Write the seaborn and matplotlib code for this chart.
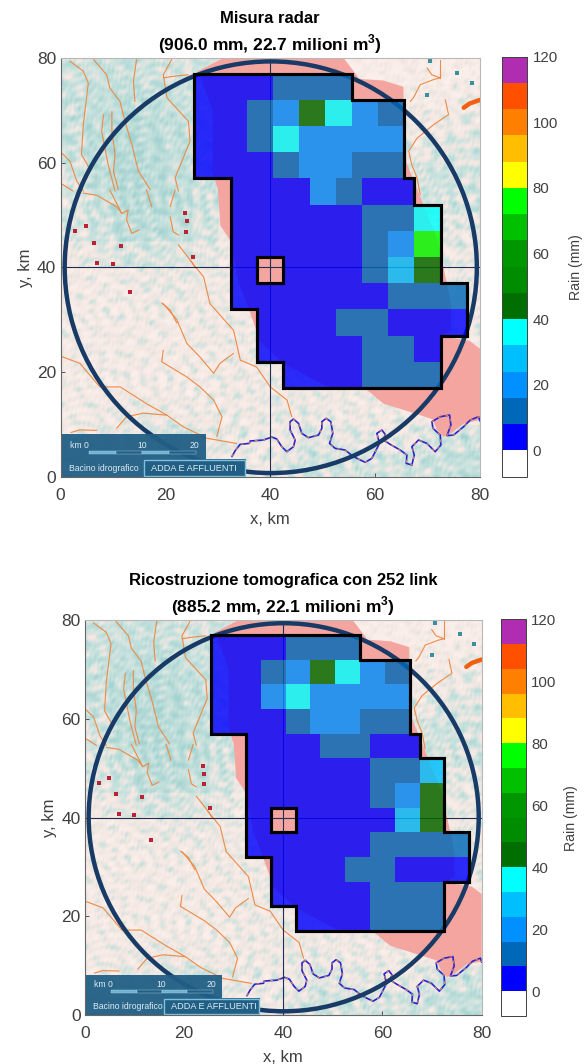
import numpy as np
import matplotlib
matplotlib.use('Agg')
import matplotlib.pyplot as plt
import seaborn as sns
from matplotlib.cm import ScalarMappable
from matplotlib.collections import LineCollection
from matplotlib.colors import LinearSegmentedColormap, ListedColormap, Normalize
from matplotlib.patches import Circle, Polygon, Rectangle
from matplotlib.transforms import Affine2D

sns.set_style("white")
plt.rcParams['font.family'] = ['Liberation Sans', 'DejaVu Sans']
plt.rcParams['mathtext.fontset'] = 'custom'
plt.rcParams['mathtext.bf'] = 'Liberation Sans:bold'
plt.rcParams['mathtext.rm'] = 'Liberation Sans'

W, H = 587, 1064
TXT = '#404040'

# rain classes (mm), colorbar goes -8..120 in 8 mm steps
rain_colors = ['#ffffff', '#0000ff', '#0068b8', '#0090ff', '#00bfff', '#00ffff',
               '#006e00', '#008c00', '#009600', '#00c000', '#00ff00', '#ffff00',
               '#ffbf00', '#ff8000', '#ff5000', '#b02cb0']
cbar_ticks = [0, 20, 40, 60, 80, 100, 120]
axis_ticks = [0, 20, 40, 60, 80]

# the catchment cells, one row every 5 km from the north
row_tops = [77, 72, 67, 62, 57, 52, 47, 42, 37, 32, 27, 22]
row_lefts = [25.5, 25.5, 25.5, 25.5, 32.5, 32.5, 32.5, 32.5, 32.5, 37.5, 37.5, 42.5]
nan = float('nan')

radar_rain = [
    [4, 4, 4, 12, 12, 12],
    [4, 4, 12, 20, 44, 36, 20, 12],
    [4, 4, 12, 36, 20, 20, 20, 20],
    [4, 4, 4, 12, 20, 20, 12, 12],
    [4, 4, 4, 20, 12, 4, 4],
    [4, 4, 4, 4, 4, 12, 12, 36],
    [4, 4, 4, 4, 4, 12, 20, 76],
    [4, nan, 4, 4, 4, 12, 28, 44],
    [4, 4, 4, 4, 4, 4, 12, 12, 12],
    [4, 4, 4, 12, 12, 4, 4, 4],
    [4, 4, 4, 4, 12, 12, 4],
    [4, 4, 4, 12, 12, 12],
]
tomo_rain = [
    [4, 4, 4, 12, 12, 12],
    [4, 4, 12, 20, 44, 36, 20, 12],
    [4, 4, 20, 36, 20, 20, 20, 20],
    [4, 4, 4, 12, 20, 20, 12, 12],
    [4, 4, 4, 12, 12, 4, 4],
    [4, 4, 4, 4, 4, 12, 12, 28],
    [4, 4, 4, 4, 4, 12, 20, 44],
    [4, nan, 4, 4, 4, 4, 28, 44],
    [4, 4, 4, 4, 4, 12, 12, 12, 12],
    [4, 4, 4, 12, 12, 4, 4, 4],
    [4, 4, 4, 4, 12, 12, 12],
    [4, 4, 4, 12, 12, 12],
]

# background map, km. amount of green speckle per 5 km square, north first
map_tint = [
    [.55, .6, .6, .55, .5, .5, .3, .2, .2, .1, .1, .1, .1, .15, .1, .1],
    [.6, .65, .7, .65, .6, .45, .3, .3, .3, .3, .3, .2, .2, .2, .2, .25],
    [.6, .7, .8, .7, .65, .5, .3, .3, .3, .3, .3, .3, .3, .3, .3, .35],
    [.6, .7, .8, .75, .65, .5, .3, .3, .3, .3, .3, .3, .3, .35, .45, .45],
    [.5, .7, .8, .75, .65, .55, .4, .3, .3, .3, .3, .3, .4, .5, .55, .5],
    [.45, .6, .75, .75, .7, .55, .4, .3, .3, .3, .3, .3, .4, .55, .5, .5],
    [.45, .55, .7, .7, .65, .5, .4, .3, .3, .3, .3, .3, .4, .45, .4, .4],
    [.3, .4, .5, .5, .45, .4, .3, .3, .3, .3, .3, .3, .3, .3, .35, .35],
    [.25, .25, .3, .35, .35, .3, .3, .3, .3, .3, .3, .3, .3, .3, .3, .35],
    [.25, .25, .25, .3, .3, .3, .3, .3, .3, .3, .3, .3, .3, .3, .3, .3],
    [.25, .25, .25, .25, .25, .3, .3, .3, .3, .3, .3, .3, .3, .3, .3, .3],
    [.25, .25, .25, .25, .25, .25, .3, .3, .3, .3, .3, .3, .3, .3, .3, .3],
    [.25, .25, .25, .25, .25, .25, .3, .3, .3, .3, .3, .3, .3, .3, .3, .3],
    [.25, .3, .35, .35, .3, .3, .3, .3, .35, .35, .3, .3, .3, .3, .3, .3],
    [.3, .35, .35, .45, .55, .4, .35, .3, .3, .45, .4, .4, .3, .4, .55, .55],
    [.35, .3, .3, .45, .5, .4, .3, .3, .4, .55, .5, .5, .5, .55, .6, .65],
]

basin_x = [31, 26.3, 29, 29, 30, 30.5, 32.5, 34, 36.3, 38, 42.5, 51.4, 58, 61.6, 68, 71, 71.8, 73, 74,
           76.9, 80, 80, 78, 72.7, 74.5, 74.5, 72, 66, 65.4, 65.4, 61.6, 57, 54]
basin_y = [80, 77.5, 70, 58, 55, 48, 45, 37, 31, 26, 21.7, 17, 17, 14, 12, 11, 9, 7.7, 8,
           10.2, 10.9, 24.5, 26, 26.8, 28, 33, 45, 60, 72.5, 74.5, 75.7, 76, 80]

orange_rivers = [
    ([24.7, 27.3, 28.5, 33, 34.3, 37.4, 40, 43.2, 44.1], [41.4, 38.2, 33.1, 28, 22.3, 21, 17.2, 14.7, 11.5]),
    ([19.6, 22.2, 24.1, 26.6, 29.2, 30.4, 33], [33.1, 30, 25.5, 22.9, 19.8, 21.7, 23.6]),
    ([19.6, 19.3, 24.1, 26.6, 29.2, 30.8, 29.8], [24.2, 22, 19.1, 17.2, 14.7, 11.5, 7.7]),
    ([0.2, 3.7, 7.5, 11.4, 16.4, 20.3, 23.4, 27.9, 33.6], [23, 21.7, 17.2, 17.2, 14, 11.8, 9.6, 7.4, 6.4]),
    ([1.8, 4.35, 5.3, 4.35, 4, 5.3], [79.4, 77.5, 75.2, 67.3, 61.6, 59.3]),
    ([6.3, 8.8, 9.4, 11.35, 12.3, 13.6, 14.85, 17.1], [79.7, 76.8, 74.3, 71.7, 67.9, 63.5, 58.4, 54.9]),
    ([14.5, 13.9, 14.2], [79.7, 75.5, 71.7]),
    ([8.2, 7.85, 9.1, 10.4], [69.2, 66, 59.6, 54.6]),
    ([9.8, 9.8, 10.4, 10.1, 11], [69.8, 66, 61.6, 58.4, 54.9]),
    ([21.2, 19.6, 20.3, 24.4, 24.7, 21.85, 22.5], [79.7, 76.8, 72.4, 67.9, 64.1, 57.1, 54.6]),
    ([19.6, 21.5, 24.4], [76.2, 76.5, 76.8]),
    ([.2, 1.8, 3.1, 4.35], [61.9, 60.3, 56.5, 54.6]),
    ([0, 2.4], [56.1, 54.6]),
    ([4.35, 6.9, 10.7, 11.7], [54.2, 53.8, 51.6, 50.3]),
    ([9.4, 11.7, 12.9, 12.6, 13.6, 15], [54.8, 50.3, 51, 49.1, 46.5, 47.2]),
    ([16.4, 17.4], [54.8, 51.6]),
    ([21.85, 20.9], [54.8, 51.6]),
    ([20.9, 21.5, 22.5], [49.7, 46.8, 46.2]),
    ([22.5, 25, 25.7], [44.3, 41.1, 39.9]),
    ([19.3, 20.9, 22.2], [33.2, 31.9, 29.4]),
    ([69.9, 70.8, 72.4, 71.2, 68.6, 67.3, 66.7], [78.1, 76.8, 76.2, 75.9, 74.9, 72.4, 71.7]),
    ([72.4, 72.4], [79.7, 76.2]),
    ([73.4, 74, 71.2, 68, 66.4, 67, 68, 68.6], [72, 69.2, 67.3, 64.7, 62.2, 59.6, 57.1, 53.9]),
    ([2, 3.7, 6.9], [8.5, 9, 8.9]),
    ([10.7, 12.6, 15.8, 20.3], [9.3, 11.5, 12.2, 11.8]),
]
lake_arm_x = [76.9, 78, 80]
lake_arm_y = [70.5, 71.3, 72]
po_x = [32.7, 33.3, 34.25, 36.03, 36.16, 38.7, 40.29, 41.25, 42.2, 43.16, 44.43, 44.75, 43.79, 43.79, 44.43, 45.38,
        46.02, 47.29, 49.2, 49.84, 49.84, 50.66, 51.55, 51.93, 51.3, 52.38, 54.29, 55.88, 58.1, 59.38, 60.84,
        60.33, 61.29, 61.92, 61.6, 62.88, 64.78, 66.06, 65.93, 67.01, 67.46, 67.01, 68.28, 69.87, 71.46, 72.54,
        72.42, 71.03, 70.83, 72.42, 74.2, 74.45, 73.69, 74.96, 76.87, 78.14, 79.73, 80]
po_y = [3.9, 5, 6.23, 6.42, 6.87, 7.06, 7.63, 7.25, 5.79, 4.83, 5.79, 7.06, 8.97, 10.56, 11.07, 10.24,
        8.33, 7.51, 8.02, 9.29, 10.56, 11.2, 10.56, 8.33, 6.42, 5.47, 5.15, 3.88, 2.8, 3.56, 6.42,
        8.33, 8.97, 8.14, 7.06, 6.23, 5.15, 4.2, 2.61, 2.29, 4.2, 5.79, 7.06, 6.42, 4.83, 6.11,
        8.01, 9.29, 10.56, 11.51, 11.83, 9.92, 7.89, 8.01, 9.6, 10.88, 11.51, 10.69]
spot_x = [2.8, 4.9, 6.3, 11.5, 6.9, 9.95, 13.3, 23.75, 24.1, 24, 25.35]
spot_y = [47, 48, 44.75, 44.2, 40.8, 40.6, 35.4, 50.5, 48.8, 46.8, 42]
lake_x = [70.5, 75.6, 78.5, 69.9]
lake_y = [79.4, 77.1, 75.2, 72.9]

titles = ['Misura radar', 'Ricostruzione tomografica con 252 link']
subtitles = ['(906.0 mm, 22.7 milioni m$^{\\mathbf{3}}$)', '(885.2 mm, 22.1 milioni m$^{\\mathbf{3}}$)']
rains = [radar_rain, tomo_rain]
boxes = [(60.5, 58, 480, 477), (84.7, 620, 481.7, 1015)]
cbar_boxes = [(501.7, 56.7, 527, 476.7), (501, 619.3, 525.7, 1016)]
cbar_label_x = [2.66, 2.55]

fig = plt.figure(figsize=(W / 100, H / 100), dpi=100)


def rect(box):
    l, t, r, b = box
    return [l / W, 1 - b / H, (r - l) / W, (b - t) / H]


def rain_grid(rain):
    # half km grid, row 0 is the south edge
    grid = np.full((160, 160), np.nan)
    for top, left, values in zip(row_tops, row_lefts, rain):
        for n, v in enumerate(values):
            c = int(left * 2) + n * 10
            grid[(top - 5) * 2:top * 2, c:c + 10] = v
    return grid


def outline(grid):
    m = np.pad(~np.isnan(grid), 1, constant_values=False)
    segs = []
    for i, j in zip(*np.nonzero(m[:-1, 1:-1] != m[1:, 1:-1])):
        segs.append([(j, i), (j + 1, i)])
    for i, j in zip(*np.nonzero(m[1:-1, :-1] != m[1:-1, 1:])):
        segs.append([(j, i), (j, i + 1)])
    return segs


# mottling stands in for the scanned raster of the map, it carries no values
tint = np.kron(np.array(map_tint[::-1]), np.ones((40, 40)))
yy, xx = np.mgrid[0:640, 0:640] / 8.0
mottle = np.zeros_like(xx)
for i in range(60):
    angle = np.radians(i * 137.508)
    wave = 0.8 + 3.5 * ((i * 0.618034) % 1)
    mottle += np.sin(2 * np.pi * (np.cos(angle) * xx + np.sin(angle) * yy) / wave + i * i * 0.37)
mottle = mottle / mottle.std()
speckle = np.clip(tint + 0.13 * mottle, 0, 1)
map_cmap = LinearSegmentedColormap.from_list(
    'map', [(0, '#fbefeb'), (.3, '#f3e7e2'), (.6, '#c8e2de'), (1, '#a4d3d1')])

cmap = ListedColormap(rain_colors)
norm = Normalize(-8, 120)

for k, (rain, box, cbox) in enumerate(zip(rains, boxes, cbar_boxes)):
    ax = fig.add_axes(rect(box))
    grid = rain_grid(rain)
    sns.heatmap(grid, cmap=cmap, vmin=-8, vmax=120, alpha=0.82, cbar=False, ax=ax,
                xticklabels=False, yticklabels=False)
    km = Affine2D().scale(2) + ax.transData

    ax.imshow(speckle, cmap=map_cmap, vmin=0, vmax=1, origin='lower', extent=(0, 160, 0, 160),
              aspect='auto', interpolation='bilinear', zorder=0)
    ax.add_patch(Polygon(np.column_stack([basin_x, basin_y]), closed=True, fc='#f4a5a0',
                         ec='none', transform=km, zorder=0.2))
    for rx, ry in orange_rivers:
        ax.plot(rx, ry, color='#ee8a45', lw=0.8, transform=km, zorder=0.4)
    ax.plot(lake_arm_x, lake_arm_y, color='#f06010', lw=3.2, transform=km, zorder=0.4)
    ax.plot(po_x, po_y, color='#2424d0', lw=1.2, transform=km, zorder=0.4)
    ax.plot(po_x, po_y, color='#ee8a45', lw=0.7, ls=(0, (3, 5)), transform=km, zorder=0.45)
    ax.scatter(spot_x, spot_y, s=7, marker='s', color='#bb2233', lw=0, transform=km, zorder=0.4)
    ax.scatter(lake_x, lake_y, s=12, marker='s', color='#3a8f9f', lw=0, transform=km, zorder=0.4)
    ax.axhline(80, color='#1d2f55', lw=0.8, zorder=0.6)
    ax.axvline(80, color='#1d2f55', lw=0.8, zorder=0.6)
    ax.add_patch(Circle((40.1, 40.05), 39.3, fc='none', ec='#173a66', lw=3.2, transform=km, zorder=0.7))
    ax.add_collection(LineCollection(outline(grid), colors='black', linewidths=2.2,
                                     capstyle='projecting', zorder=3))

    # legend block of the map
    ax.add_patch(Rectangle((0, 0), 27.7, 8.2, fc='#215f85', ec='none', alpha=0.95, transform=km, zorder=4))
    ax.add_patch(Rectangle((27.7, 0), 7.6, 3.4, fc='#215f85', ec='none', alpha=0.95, transform=km, zorder=4))
    ax.add_patch(Rectangle((15.9, 0.2), 19.3, 3.1, fc='#215f85', ec='#7fc0dc', lw=1, transform=km, zorder=5))
    for n, col in enumerate(['#6fb3d0', '#215f85', '#6fb3d0', '#215f85']):
        ax.add_patch(Rectangle((5.4 + n * 5.1, 4.4), 5.1, 0.65, fc=col, ec='#a5d3e6', lw=0.3,
                               transform=km, zorder=5))
    for tx, ty, s, ha, fs in [(1.8, 6.1, 'km 0', 'left', 6.2), (15.5, 6.1, '10', 'center', 6.2),
                              (25.6, 6.1, '20', 'center', 6.2),
                              (1.7, 1.7, 'Bacino idrografico', 'left', 6.2),
                              (17.3, 1.7, 'ADDA E AFFLUENTI', 'left', 6.6)]:
        ax.text(tx, ty, s, color='#dcecf3', fontsize=fs, ha=ha, va='center', transform=km, zorder=6)

    ax.set_xlim(0, 160)
    ax.set_ylim(0, 160)
    ax.set_xticks([t * 2 for t in axis_ticks], axis_ticks)
    ax.set_yticks([t * 2 for t in axis_ticks], axis_ticks, rotation=0)
    ax.tick_params(direction='in', length=3, width=0.6, color=TXT, labelcolor=TXT, labelsize=12.5,
                   bottom=True, left=True)
    ax.tick_params(axis='x', pad=8)
    ax.tick_params(axis='y', pad=3)
    ax.set_xlabel('x, km', color=TXT, fontsize=12, labelpad=6.5)
    ax.set_ylabel('y, km', color=TXT, fontsize=12, labelpad=3)
    for name, s in ax.spines.items():
        s.set_visible(True)
        s.set_linewidth(0.8)
        s.set_color('#666666' if name in ('left', 'bottom') else '#b8b8b8')
        s.set_zorder(7)

    ax.annotate(titles[k], (0.5, 1), xycoords='axes fraction', xytext=(0, 35), textcoords='offset pixels',
                ha='center', va='baseline', fontsize=12, fontweight='bold', color='black')
    ax.annotate(subtitles[k], (0.5, 1), xycoords='axes fraction', xytext=(0, 8), textcoords='offset pixels',
                ha='center', va='baseline', fontsize=12.5, fontweight='bold', color='black')

    cax = fig.add_axes(rect(cbox))
    cb = fig.colorbar(ScalarMappable(norm=norm, cmap=cmap), cax=cax, ticks=cbar_ticks)
    cb.ax.tick_params(direction='in', length=3, width=0.6, color=TXT, labelcolor=TXT, labelsize=10.8, pad=4)
    cb.set_label('Rain (mm)', color=TXT, fontsize=10.2)
    cb.ax.yaxis.set_label_coords(cbar_label_x[k], 0.5)
    cb.outline.set_linewidth(0.7)
    cb.outline.set_edgecolor(TXT)

fig.savefig('out.png', dpi=100)
